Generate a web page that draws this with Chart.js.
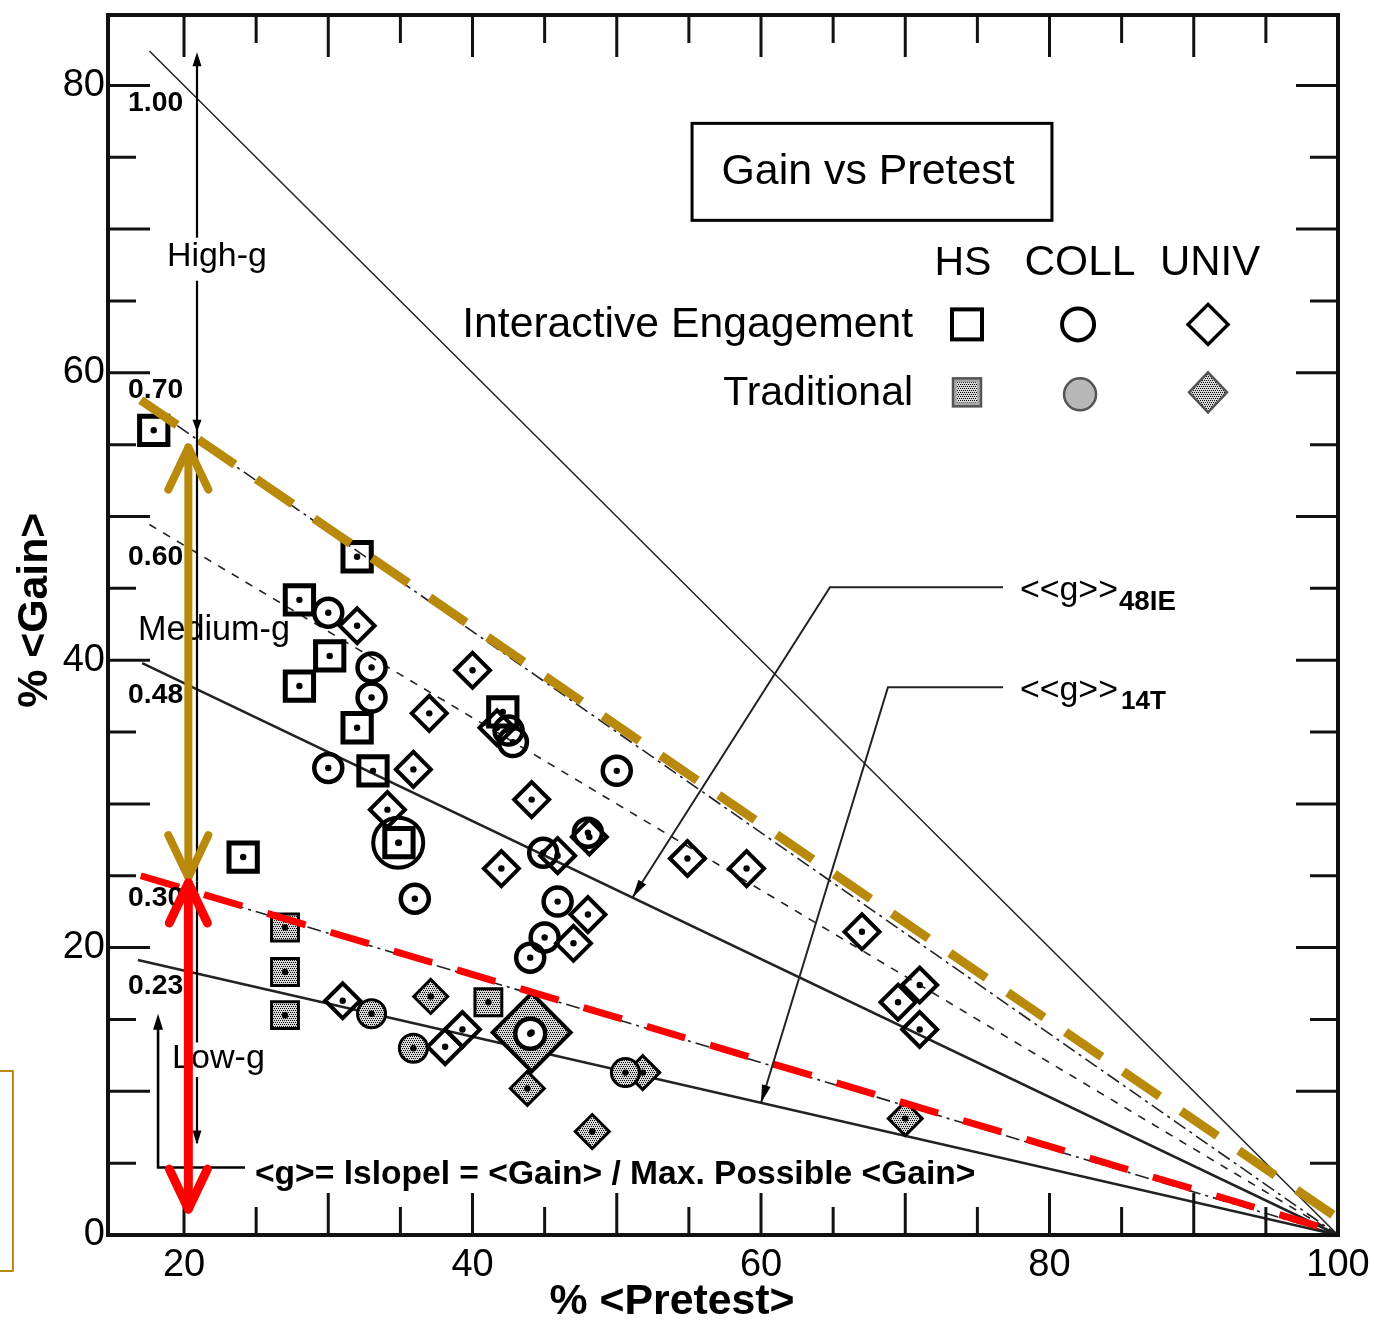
<!DOCTYPE html>
<html>
<head>
<meta charset="utf-8">
<script src="https://cdn.jsdelivr.net/npm/chart.js@4.4.1/dist/chart.umd.min.js"></script>
<style>
  html, body { margin: 0; padding: 0; background: #fff; }
  #wrap { width: 1374px; height: 1326px; }
</style>
</head>
<body>
<div id="wrap"><canvas id="hake" width="1374" height="1326"></canvas></div>
<script>
'use strict';
// axis ticks
var xTicks = [20, 40, 60, 80, 100];
var yTicks = [0, 20, 40, 60, 80];
var frameX = [20, 25, 30, 35, 40, 45, 50, 55, 60, 65, 70, 75, 80, 85, 90, 95];
var frameY = [5, 10, 15, 20, 25, 30, 35, 40, 45, 50, 55, 60, 65, 70, 75, 80];

// <g> slope lines: gain = g * (100 - pretest)
var gValues = [1.00, 0.70, 0.60, 0.48, 0.30, 0.23];
var gLabels = ['1.00', '0.70', '0.60', '0.48', '0.30', '0.23'];
var gStart = [17.6, 18.0, 17.6, 17.1, 17.8, 16.8];

// Interactive engagement
var hsIePre = [17.9, 32.0, 28.0, 30.1, 28.0, 32.0, 33.1, 34.9, 24.1, 42.1];
var hsIeGain = [56.0, 47.2, 44.2, 40.3, 38.2, 35.3, 32.3, 27.3, 26.3, 36.4];
var collIePre = [30.0, 33.0, 33.0, 30.0, 50.0, 42.8, 42.5, 44.9, 48.0, 36.0, 45.9, 44.0, 45.0];
var collIeGain = [43.3, 39.5, 37.4, 32.5, 32.3, 34.3, 35.1, 26.6, 28.0, 23.4, 23.2, 19.3, 20.7];
var univIePre = [32.0, 40.0, 37.0, 35.9, 34.1, 44.1, 42.0, 41.7, 48.1, 45.9, 48.0, 47.0, 54.9, 59.0, 67.0, 71.0, 69.5, 71.0, 31.0, 38.1, 39.3];
var univIeGain = [42.4, 39.3, 36.3, 32.4, 29.6, 30.3, 25.5, 35.3, 27.7, 26.4, 22.3, 20.3, 26.2, 25.5, 21.1, 17.4, 16.2, 14.3, 16.3, 13.1, 14.3];
// Traditional
var hsTPre = [27.0, 27.0, 27.0, 41.1];
var hsTGain = [21.4, 18.3, 15.3, 16.2];
var collTPre = [33.0, 35.9, 50.6];
var collTGain = [15.4, 13.0, 11.3];
var univTPre = [37.1, 43.8, 48.3, 51.8, 70.0];
var univTGain = [16.6, 10.2, 7.2, 11.3, 8.1];
// large symbols
var bigCollIePre = [34.85];
var bigCollIeGain = [27.3];
var bigUnivTPre = [44.1];
var bigUnivTGain = [14.1];
var bigCollPre = [44.0];
var bigCollGain = [14.0];

// highlight lines drawn over the figure
var goldPre = [17.0, 99.8];
var goldGain = [58.1, 1.3];
var redPre = [17.0, 100];
var redGain = [25.0, 0.2];

var fam = '"Liberation Sans", Arial, Helvetica, sans-serif';
var GOLD = '#b8890b';
var RED = '#ff0000';

function pts(xs, ys) {
    return xs.map(function (x, i) { return {x: x, y: ys[i]}; });
}

function hatch(bg) {
    var c = document.createElement('canvas');
    c.width = 4; c.height = 4;
    var g = c.getContext('2d');
    g.fillStyle = bg;
    g.fillRect(0, 0, 4, 4);
    g.fillStyle = '#000';
    g.fillRect(0, 0, 1, 1); g.fillRect(2, 0, 1, 1);
    g.fillRect(1, 2, 1, 1); g.fillRect(3, 2, 1, 1);
    return g.createPattern(c, 'repeat');
}
var hatchGray = hatch('#d8d8d8');

function fit(ctx, txt, x, y, w, weight, align) {
    ctx.font = weight + ' 100px ' + fam;
    var s = 100 * w / ctx.measureText(txt).width;
    ctx.font = weight + ' ' + s.toFixed(1) + 'px ' + fam;
    ctx.textAlign = align;
    ctx.textBaseline = 'middle';
    ctx.fillText(txt, x, y);
}

function head(ctx, x0, y0, x1, y1, len, half) {
    var a = Math.atan2(y1 - y0, x1 - x0);
    var bx = x1 - len * Math.cos(a), by = y1 - len * Math.sin(a);
    ctx.beginPath();
    ctx.moveTo(x1, y1);
    ctx.lineTo(bx + half * Math.sin(a), by - half * Math.cos(a));
    ctx.lineTo(bx - half * Math.sin(a), by + half * Math.cos(a));
    ctx.closePath();
    ctx.fill();
}

function chevron(ctx, x, y, dir, w, h) {
    ctx.beginPath();
    ctx.moveTo(x - w, y - dir * h);
    ctx.lineTo(x, y);
    ctx.lineTo(x + w, y - dir * h);
    ctx.stroke();
}

var hakePlugin = {
    id: 'hake',
    beforeDraw: function (chart) {
        var ctx = chart.ctx;
        ctx.save();
        ctx.fillStyle = '#fff';
        ctx.fillRect(0, 0, chart.width, chart.height);
        ctx.restore();
    },
    afterDatasetsDraw: function (chart) {
        var ctx = chart.ctx, a = chart.chartArea;
        var sx = chart.scales.x, sy = chart.scales.y;
        function X(v) { return sx.getPixelForValue(v); }
        function Y(v) { return sy.getPixelForValue(v); }
        ctx.save();

        // frame and inward ticks
        ctx.strokeStyle = '#111';
        ctx.lineWidth = 3;
        frameX.forEach(function (v) {
            var len = v % 10 === 0 ? 42 : 28, px = X(v);
            ctx.beginPath();
            ctx.moveTo(px, a.bottom); ctx.lineTo(px, a.bottom - len);
            ctx.moveTo(px, a.top); ctx.lineTo(px, a.top + len);
            ctx.stroke();
        });
        frameY.forEach(function (v) {
            var len = v % 10 === 0 ? 42 : 28, py = Y(v);
            ctx.beginPath();
            ctx.moveTo(a.left, py); ctx.lineTo(a.left + len, py);
            ctx.moveTo(a.right, py); ctx.lineTo(a.right - len, py);
            ctx.stroke();
        });
        ctx.lineWidth = 4;
        ctx.strokeRect(a.left, a.top, a.right - a.left, a.bottom - a.top);

        ctx.fillStyle = '#000';
        ctx.strokeStyle = '#000';

        // g labels on the left
        var gLabelY = [78.75, 58.78, 47.17, 37.57, 23.44, 17.32];
        gLabels.forEach(function (t, i) {
            fit(ctx, t, X(16.12), Y(gLabelY[i]), 55, 'bold', 'left');
        });

        // region names
        fit(ctx, 'High-g', X(18.82), Y(68.1), 100, 'normal', 'left');
        fit(ctx, 'Medium-g', X(16.81), Y(42.09), 152, 'normal', 'left');
        fit(ctx, 'Low-g', X(19.17), Y(12.31), 93, 'normal', 'left');

        // black region arrows
        ctx.lineWidth = 2.2;
        var segs = [[82.0, 69.4], [66.4, 24.6], [24.6, 13.4], [11.0, 6.4]];
        segs.forEach(function (s) {
            ctx.beginPath();
            ctx.moveTo(X(20.9), Y(s[0])); ctx.lineTo(X(20.9), Y(s[1]));
            ctx.stroke();
        });
        head(ctx, X(20.9), Y(76), X(20.9), Y(82.3), 14, 4.5);
        head(ctx, X(20.9), Y(60), X(20.9), Y(55.9), 12, 4.5);
        head(ctx, X(20.9), Y(12), X(20.9), Y(6.3), 14, 4.5);

        // L arrow to the definition
        ctx.lineWidth = 2.6;
        ctx.beginPath();
        ctx.moveTo(X(18.2), Y(14.6));
        ctx.lineTo(X(18.2), Y(4.7));
        ctx.lineTo(X(24.23), Y(4.7));
        ctx.stroke();
        head(ctx, X(18.2), Y(10), X(18.2), Y(15.4), 16, 5);
        fit(ctx, '<g>= lslopel = <Gain> / Max. Possible <Gain>', X(24.92), Y(4.17), 720, 'bold', 'left');

        // fitted-line call-outs
        ctx.lineWidth = 2;
        ctx.strokeStyle = '#222';
        ctx.beginPath();
        ctx.moveTo(X(76.78), Y(45.08)); ctx.lineTo(X(64.78), Y(45.08)); ctx.lineTo(X(51.1), Y(23.5));
        ctx.moveTo(X(76.78), Y(38.12)); ctx.lineTo(X(68.8), Y(38.12)); ctx.lineTo(X(60.0), Y(9.2));
        ctx.stroke();
        head(ctx, X(64.78), Y(45.08), X(51.1), Y(23.5), 18, 4.5);
        head(ctx, X(68.8), Y(38.12), X(60.0), Y(9.2), 18, 4.5);
        fit(ctx, '<<g>>', X(77.95), Y(44.87), 98, 'normal', 'left');
        fit(ctx, '48IE', X(77.95) + 99, Y(44.87) + 12, 57, 'bold', 'left');
        fit(ctx, '<<g>>', X(77.95), Y(37.91), 98, 'normal', 'left');
        fit(ctx, '14T', X(77.95) + 101, Y(37.91) + 12, 45, 'bold', 'left');

        // legend block
        ctx.strokeStyle = '#000';
        ctx.lineWidth = 3;
        ctx.strokeRect(X(55.22), Y(77.36), X(80.17) - X(55.22), Y(70.61) - Y(77.36));
        fit(ctx, 'Gain vs Pretest', X(67.42), Y(73.95), 293, 'normal', 'center');
        fit(ctx, 'HS', X(74.0), Y(67.62), 57, 'normal', 'center');
        fit(ctx, 'COLL', X(82.11), Y(67.62), 111, 'normal', 'center');
        fit(ctx, 'UNIV', X(91.13), Y(67.62), 100, 'normal', 'center');
        fit(ctx, 'Interactive Engagement', X(70.54), Y(63.3), 451, 'normal', 'right');
        fit(ctx, 'Traditional', X(70.54), Y(58.57), 190, 'normal', 'right');

        var r1 = Y(63.37), r2 = Y(58.64);
        ctx.lineWidth = 4;
        ctx.strokeRect(X(74.28) - 15, r1 - 15, 30, 30);
        ctx.beginPath(); ctx.arc(X(81.98), r1, 16, 0, 2 * Math.PI); ctx.stroke();
        ctx.lineWidth = 3.5;
        ctx.beginPath();
        ctx.moveTo(X(90.99), r1 - 20); ctx.lineTo(X(90.99) + 20, r1);
        ctx.lineTo(X(90.99), r1 + 20); ctx.lineTo(X(90.99) - 20, r1); ctx.closePath();
        ctx.stroke();

        ctx.lineWidth = 2.5;
        ctx.strokeStyle = '#555';
        ctx.fillStyle = '#a8a8a8';
        ctx.fillRect(X(74.28) - 14, r2 - 14, 28, 28);
        ctx.fillStyle = hatchGray;
        ctx.fillRect(X(74.28) - 10, r2 - 10, 20, 20);
        ctx.strokeRect(X(74.28) - 14, r2 - 14, 28, 28);
        ctx.fillStyle = '#b8b8b8';
        ctx.beginPath(); ctx.arc(X(81.98) + 2, r2 + 2, 16, 0, 2 * Math.PI); ctx.fill(); ctx.stroke();
        ctx.fillStyle = hatchGray;
        ctx.beginPath();
        ctx.moveTo(X(90.99), r2 - 20); ctx.lineTo(X(90.99) + 19, r2);
        ctx.lineTo(X(90.99), r2 + 20); ctx.lineTo(X(90.99) - 19, r2); ctx.closePath();
        ctx.fill(); ctx.stroke();

        // axis titles
        ctx.fillStyle = '#000';
        fit(ctx, '% <Pretest>', X(53.83), Y(-4.66), 245, 'bold', 'center');
        ctx.save();
        ctx.translate(X(9.67), Y(43.48));
        ctx.rotate(-Math.PI / 2);
        fit(ctx, '% <Gain>', 0, 0, 195, 'bold', 'center');
        ctx.restore();

        // gold and red double arrows
        ctx.lineCap = 'round';
        ctx.lineJoin = 'round';
        ctx.strokeStyle = GOLD;
        ctx.lineWidth = 8;
        ctx.beginPath(); ctx.moveTo(X(20.3), Y(54.8)); ctx.lineTo(X(20.3), Y(24.9)); ctx.stroke();
        chevron(ctx, X(20.3), Y(54.8), -1, 20, 42);
        chevron(ctx, X(20.3), Y(24.9), 1, 20, 42);
        ctx.strokeStyle = RED;
        ctx.lineWidth = 9;
        ctx.beginPath(); ctx.moveTo(X(20.3), Y(24.5)); ctx.lineTo(X(20.3), Y(1.8)); ctx.stroke();
        chevron(ctx, X(20.3), Y(24.5), -1, 19, 40);
        chevron(ctx, X(20.3), Y(1.8), 1, 19, 40);

        // cut-off gold box at the left edge
        ctx.lineCap = 'butt';
        ctx.strokeStyle = GOLD;
        ctx.lineWidth = 2;
        ctx.strokeRect(X(7.0), Y(11.41), X(8.14) - X(7.0), Y(-2.5) - Y(11.41));
        ctx.restore();
    }
};

var datasets = [];
var gStyle = [
    {w: 1.5, dash: []}, {w: 1.6, dash: [14, 5, 3, 5]}, {w: 1.6, dash: [8, 8]},
    {w: 2.6, dash: []}, {w: 1.6, dash: [14, 5, 3, 5]}, {w: 2.6, dash: []}
];
gValues.forEach(function (g, i) {
    datasets.push({
        type: 'scatter', showLine: true, order: 10,
        data: [{x: gStart[i], y: g * (100 - gStart[i])}, {x: 100, y: 0}],
        borderColor: '#222', borderWidth: gStyle[i].w, borderDash: gStyle[i].dash,
        pointRadius: 0
    });
});

function markers(xs, ys, style, radius, width, fill, order) {
    return {
        type: 'scatter', order: order, data: pts(xs, ys),
        pointStyle: style, pointRadius: radius, pointBorderWidth: width,
        pointBorderColor: '#000', pointBackgroundColor: fill
    };
}
datasets.push(markers(bigCollIePre, bigCollIeGain, 'circle', 25, 4, 'rgba(0,0,0,0)', 7));
datasets.push(markers(bigUnivTPre, bigUnivTGain, 'rectRot', 39, 4, hatchGray, 7));
datasets.push(markers(hsTPre, hsTGain, 'rect', 19, 3, hatchGray, 6));
datasets.push(markers(collTPre, collTGain, 'circle', 14, 3, hatchGray, 6));
datasets.push(markers(univTPre, univTGain, 'rectRot', 17, 3, hatchGray, 6));
datasets.push(markers(hsIePre, hsIeGain, 'rect', 20, 5, 'rgba(0,0,0,0)', 5));
datasets.push(markers(collIePre, collIeGain, 'circle', 14, 4.5, 'rgba(0,0,0,0)', 5));
datasets.push(markers(univIePre, univIeGain, 'rectRot', 17.5, 4, 'rgba(0,0,0,0)', 5));
datasets.push(markers(bigCollPre, bigCollGain, 'circle', 15, 4.5, '#fff', 4));

var allPre = [].concat(hsIePre, collIePre, univIePre, hsTPre, collTPre, univTPre, bigCollIePre, bigUnivTPre, bigCollPre);
var allGain = [].concat(hsIeGain, collIeGain, univIeGain, hsTGain, collTGain, univTGain, bigCollIeGain, bigUnivTGain, bigCollGain);
datasets.push(markers(allPre, allGain, 'circle', 3.2, 0, '#000', 3));

datasets.push({
    type: 'scatter', showLine: true, order: 1, data: pts(goldPre, goldGain),
    borderColor: GOLD, borderWidth: 9, borderDash: [44, 26], pointRadius: 0
});
datasets.push({
    type: 'scatter', showLine: true, order: 1, data: pts(redPre, redGain),
    borderColor: RED, borderWidth: 7, borderDash: [40, 26], pointRadius: 0
});

function noPadX(s) { s.height = 91; s.paddingLeft = 0; s.paddingRight = 0; }
function noPadY(s) { s.width = 108; s.paddingTop = 0; s.paddingBottom = 0; }

new Chart(document.getElementById('hake').getContext('2d'), {
    type: 'scatter',
    data: {datasets: datasets},
    options: {
        responsive: false,
        animation: false,
        events: [],
        layout: {autoPadding: false, padding: {top: 15, right: 36, left: 0, bottom: 0}},
        plugins: {legend: {display: false}, tooltip: {enabled: false}},
        scales: {
            x: {
                type: 'linear', min: 14.73, max: 100,
                afterBuildTicks: function (s) { s.ticks = xTicks.map(function (v) { return {value: v}; }); },
                afterFit: noPadX,
                grid: {display: false, drawTicks: false},
                border: {display: false},
                ticks: {padding: 8, autoSkip: false, maxRotation: 0, color: '#000', font: {family: fam, size: 38}}
            },
            y: {
                type: 'linear', min: 0, max: 84.9,
                afterBuildTicks: function (s) { s.ticks = yTicks.map(function (v) { return {value: v}; }); },
                afterFit: noPadY,
                grid: {display: false, drawTicks: false},
                border: {display: false},
                ticks: {padding: 3, autoSkip: false, color: '#000', font: {family: fam, size: 38}}
            }
        }
    },
    plugins: [hakePlugin]
});
</script>
</body>
</html>
